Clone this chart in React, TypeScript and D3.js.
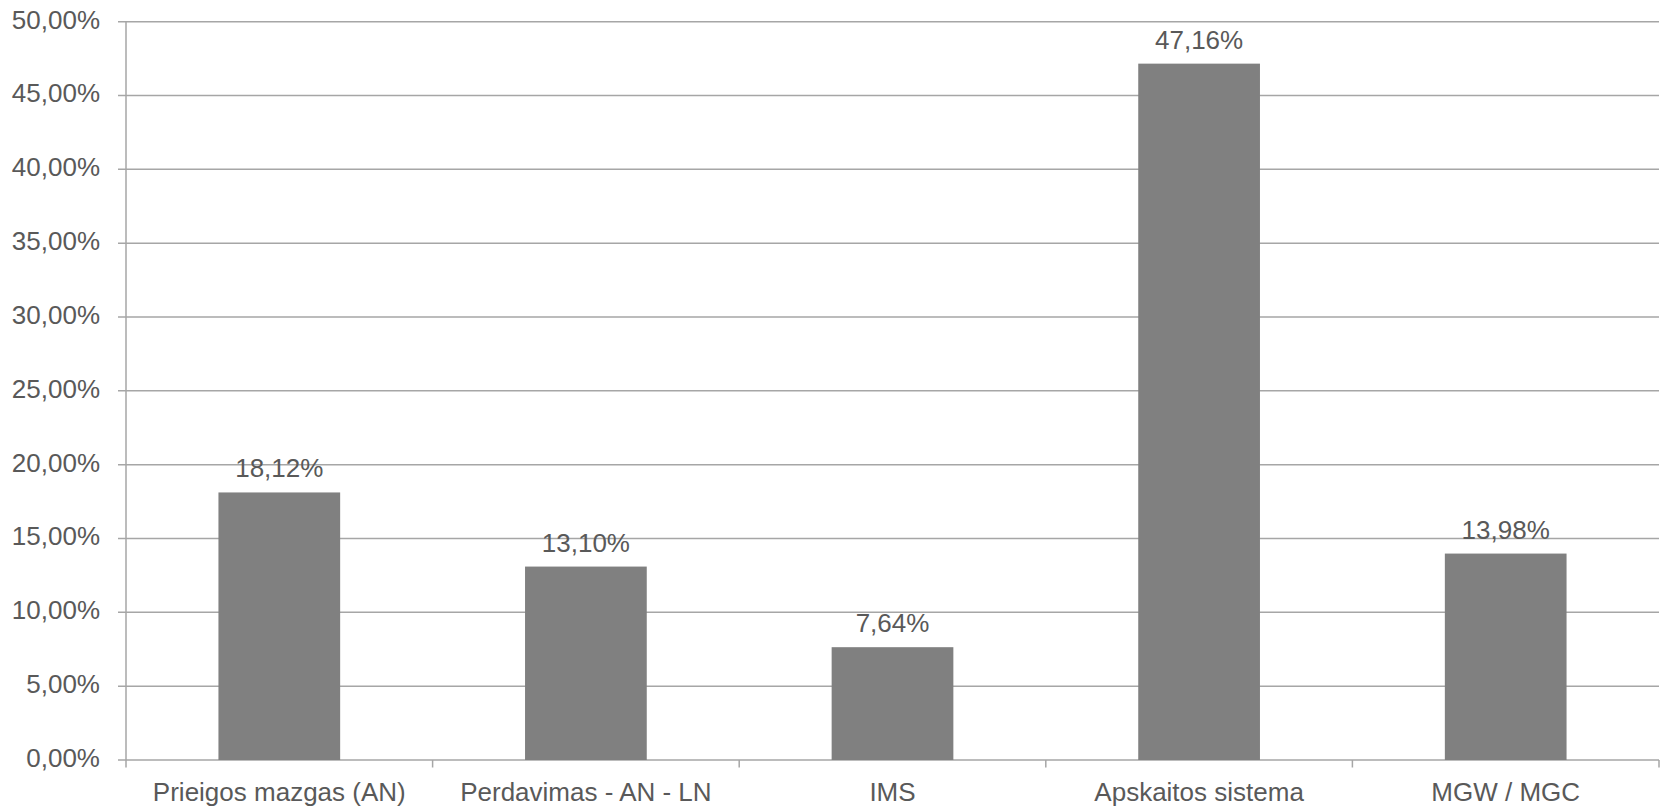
import React from "react";
import * as d3 from "d3";

const categories = [
  "Prieigos mazgas (AN)",
  "Perdavimas - AN - LN",
  "IMS",
  "Apskaitos sistema",
  "MGW / MGC",
];
const values = [18.12, 13.1, 7.64, 47.16, 13.98];
const yTicks = [0, 5, 10, 15, 20, 25, 30, 35, 40, 45, 50];

const W = 1661;
const H = 806;
const left = 126;
const right = 1659;
const top = 21.7;
const bottom = 760;

const fmt = (v: number) => v.toFixed(2).replace(".", ",") + "%";

export default function App() {
  const x = d3
    .scaleBand<string>()
    .domain(categories)
    .range([left, right])
    .paddingInner(0)
    .paddingOuter(0);
  const y = d3.scaleLinear().domain([0, 50]).range([bottom, top]);
  const step = x.step();
  const barW = step * 0.397;
  const grid = "#a6a6a6";
  const text = "#595959";
  const font = "'Liberation Sans', Arial, sans-serif";

  return (
    <svg
      width={W}
      height={H}
      style={{ position: "absolute", left: 0, top: 0, display: "block", background: "#fff" }}
      fontFamily={font}
    >
      {yTicks.map((t) => (
        <g key={t}>
          <line x1={118} x2={right} y1={y(t)} y2={y(t)} stroke={grid} strokeWidth={1.5} />
          <text
            x={100}
            y={y(t)}
            textAnchor="end"
            dominantBaseline="middle"
            fontSize={26}
            fill={text}
          >
            {fmt(t)}
          </text>
        </g>
      ))}
      <line x1={left} x2={left} y1={top} y2={bottom + 7.5} stroke={grid} strokeWidth={1.5} />
      {categories.map((c, i) => (
        <line
          key={"t" + i}
          x1={(x(c) as number) + step}
          x2={(x(c) as number) + step}
          y1={bottom}
          y2={bottom + 7.5}
          stroke={grid}
          strokeWidth={1.5}
        />
      ))}
      {categories.map((c, i) => {
        const cx = (x(c) as number) + step / 2;
        return (
          <g key={c}>
            <rect
              x={cx - barW / 2}
              y={y(values[i])}
              width={barW}
              height={bottom - y(values[i])}
              fill="#808080"
            />
            <text x={cx} y={y(values[i]) - 15} textAnchor="middle" fontSize={26} fill={text}>
              {fmt(values[i])}
            </text>
            <text x={cx} y={801} textAnchor="middle" fontSize={26} fill={text}>
              {c}
            </text>
          </g>
        );
      })}
    </svg>
  );
}
